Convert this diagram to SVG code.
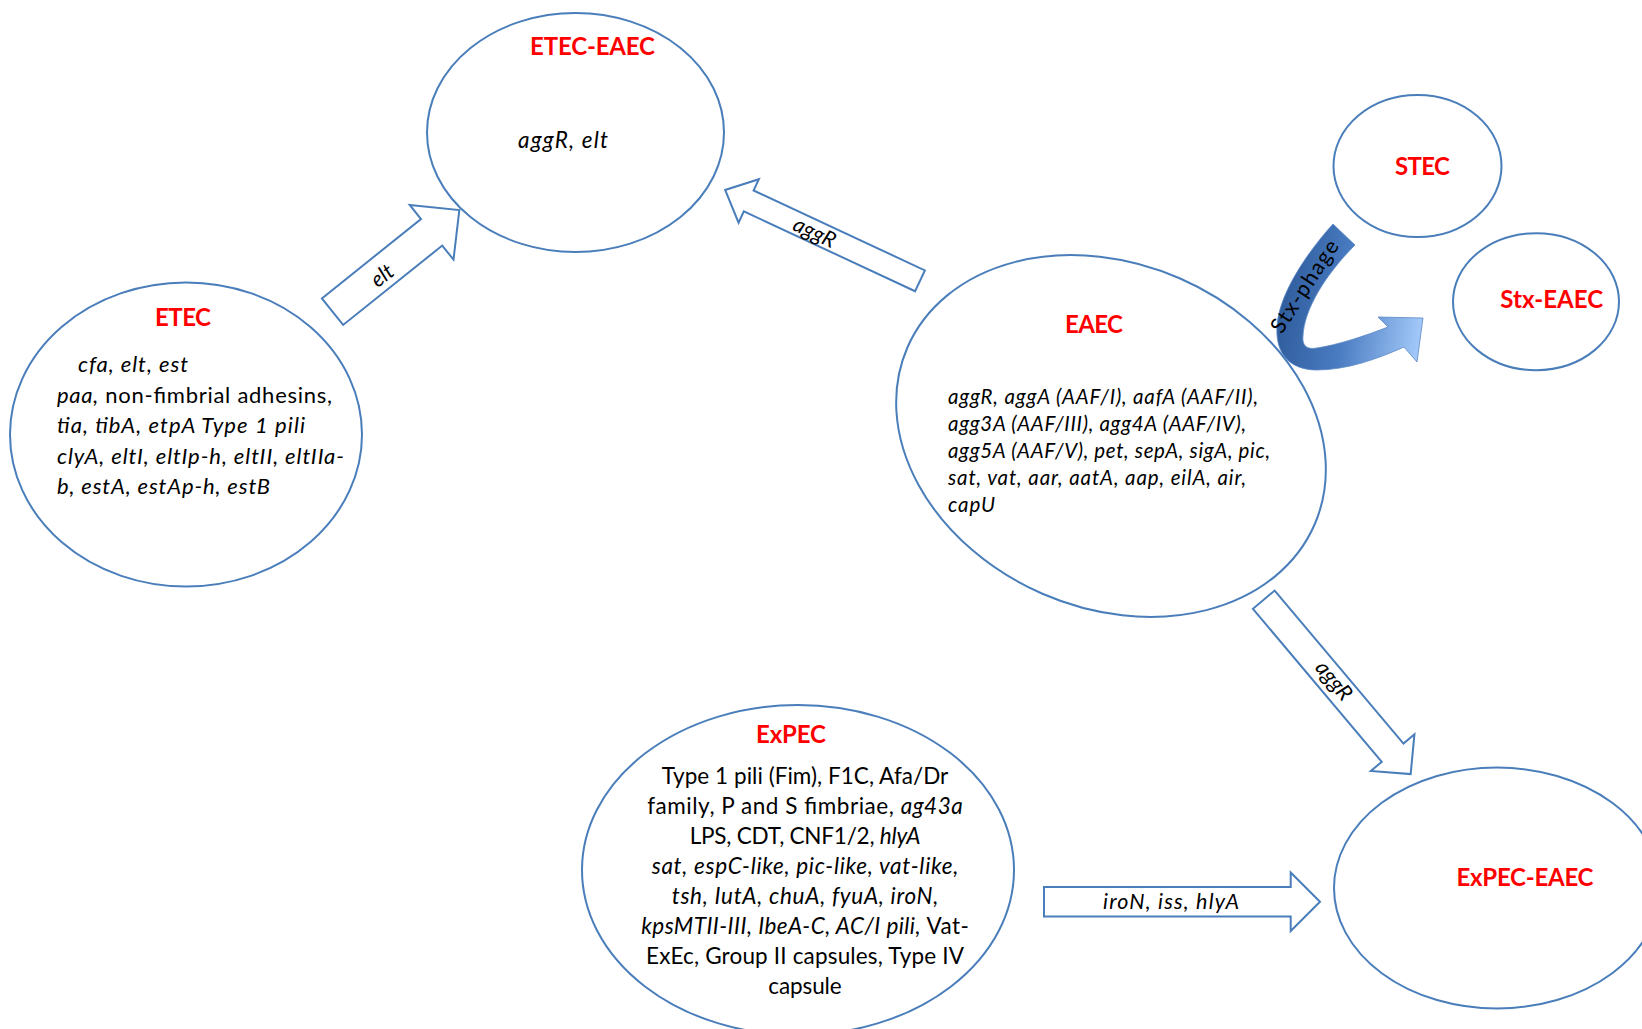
<svg xmlns="http://www.w3.org/2000/svg" width="1642" height="1029" viewBox="0 0 1642 1029">
<style>
.node ellipse{fill:#fff;stroke:#4a7ebb;stroke-width:2}
.t{font-family:Lato,"Open Sans","Liberation Sans",sans-serif;font-weight:bold;fill:#ff0000;font-size:24px;text-anchor:middle}
.b{font-family:Lato,"Open Sans","Liberation Sans",sans-serif;fill:#000;}
.i{font-style:italic}
.arrow{fill:#fff;stroke:#4a7ebb;stroke-width:2;stroke-linejoin:miter}
.lab{font-family:Lato,"Open Sans","Liberation Sans",sans-serif;font-style:italic;font-size:21.5px;fill:#000;text-anchor:middle;dominant-baseline:central}
</style>
<defs>
<linearGradient id="stxg" gradientUnits="userSpaceOnUse" x1="1280" y1="300" x2="1425" y2="320">
<stop offset="0" stop-color="#2f5c9c"/>
<stop offset="0.45" stop-color="#4a7cc2"/>
<stop offset="1" stop-color="#a5cbfa"/>
</linearGradient>
</defs>
<rect width="1642" height="1029" fill="#fff"/>

<g id="ETEC" class="node">
<ellipse cx="186" cy="434.5" rx="176" ry="152"/>
<text class="t" x="183" y="326" textLength="56">ETEC</text>
<text class="b i" font-size="22" x="78" y="372" textLength="110">cfa, elt, est</text>
<text class="b" font-size="22" x="57" y="403" textLength="275"><tspan class="i">paa,</tspan> non-fimbrial adhesins,</text>
<text class="b i" font-size="22" x="57" y="433" textLength="248">tia, tibA, etpA Type 1 pili</text>
<text class="b i" font-size="22" x="57" y="463.5" textLength="287">clyA, eltI, eltIp-h, eltII, eltIIa-</text>
<text class="b i" font-size="22" x="57" y="493.5" textLength="213">b, estA, estAp-h, estB</text>
</g>

<g id="ETEC-EAEC" class="node">
<ellipse cx="575.5" cy="132.5" rx="148.5" ry="119.5"/>
<text class="t" x="592.5" y="55" textLength="125">ETEC-EAEC</text>
<text class="b i" font-size="22.5" x="518" y="148" textLength="90">aggR, elt</text>
</g>

<g id="EAEC" class="node">
<ellipse cx="1111" cy="436" rx="222" ry="172" transform="rotate(23.5 1111 436)"/>
<text class="t" x="1094" y="333" textLength="58">EAEC</text>
<text class="b i" font-size="20.5" x="948" y="404" textLength="310">aggR, aggA (AAF/I), aafA (AAF/II),</text>
<text class="b i" font-size="20.5" x="948" y="431" textLength="298">agg3A (AAF/III), agg4A (AAF/IV),</text>
<text class="b i" font-size="20.5" x="948" y="458" textLength="322">agg5A (AAF/V), pet, sepA, sigA, pic,</text>
<text class="b i" font-size="20.5" x="948" y="485" textLength="298">sat, vat,  aar, aatA, aap, eilA, air,</text>
<text class="b i" font-size="20.5" x="948" y="512" textLength="47">capU</text>
</g>

<g id="STEC" class="node">
<ellipse cx="1417.5" cy="166" rx="84" ry="71"/>
<text class="t" x="1422.5" y="175" textLength="55">STEC</text>
</g>

<g id="Stx-EAEC" class="node">
<ellipse cx="1536" cy="301.7" rx="83" ry="68.5"/>
<text class="t" x="1551.7" y="308" textLength="103">Stx-EAEC</text>
</g>

<g id="ExPEC" class="node">
<ellipse cx="798" cy="870" rx="216" ry="165"/>
<text class="t" x="791" y="743" textLength="70">ExPEC</text>
<g class="b" font-size="22.5" text-anchor="middle">
<text x="805" y="784" textLength="286.6">Type 1 pili (Fim), F1C, Afa/Dr</text>
<text x="805" y="814" textLength="315.6">family, P and S fimbriae, <tspan class="i">ag43a</tspan></text>
<text x="805" y="844" textLength="230.7">LPS, CDT, CNF1/2, <tspan class="i">hlyA</tspan></text>
<text class="i" x="805" y="874" textLength="306.6">sat, espC-like, pic-like, vat-like,</text>
<text class="i" x="805" y="904" textLength="266.6">tsh, IutA, chuA, fyuA, iroN,</text>
<text x="805" y="933.5" textLength="327.6"><tspan class="i">kpsMTII-III,  IbeA-C, AC/I pili,</tspan> Vat-</text>
<text x="805" y="964" textLength="318">ExEc, Group  II capsules, Type IV</text>
<text x="805" y="994" textLength="73.4">capsule</text>
</g>
</g>

<g id="ExPEC-EAEC" class="node">
<ellipse cx="1497" cy="888" rx="163" ry="120.5"/>
<text class="t" x="1525" y="886" textLength="137">ExPEC-EAEC</text>
</g>

<g id="connectors">
<g id="elt-arrow">
<polygon class="arrow" transform="translate(332.5 311.7) rotate(-38.7)" points="0,-17 127,-17 127,-35 162.5,0 127,35 127,17 0,17"/>
<text class="lab" transform="translate(381.7 275) rotate(-38.7)">elt</text>
</g>
<g id="aggR-arrow-1">
<polygon class="arrow" transform="translate(920 280.8) rotate(205)" points="0,-11.5 189,-11.5 189,-24 215,0 189,24 189,11.5 0,11.5"/>
<text class="lab" transform="translate(815 231.7) rotate(25)">aggR</text>
</g>
<g id="aggR-arrow-2">
<polygon class="arrow" transform="translate(1263.8 599.7) rotate(49.9)" points="0,-14.2 200,-14.2 200,-28.5 228,0 200,28.5 200,14.2 0,14.2"/>
<text class="lab" transform="translate(1334.5 680) rotate(49.9)">aggR</text>
</g>
<g id="iroN-arrow">
<polygon class="arrow" points="1044,887 1290.7,887 1290.7,872.5 1320,901.7 1290.7,931 1290.7,916.5 1044,916.5"/>
<text class="lab" x="1171" y="901" textLength="136">iroN, iss, hlyA</text>
</g>
<g id="stx-phage-arrow">
<path fill="url(#stxg)" stroke="#5b88c6" stroke-width="0.8" d="M 1333,224 C 1305,255 1279,295 1277,326 C 1275,356 1292,370 1317,370 C 1347,370 1377,359 1404,347 L 1417,362 L 1423,318 L 1378,317 L 1388,327 C 1365,336 1337,345 1317,348 C 1306,350 1302,345 1303,336 C 1304,310 1325,275 1355,245 Z"/>
<text class="lab" style="font-style:normal" font-size="22" textLength="106" transform="translate(1304 286) rotate(-57)">Stx-phage</text>
</g>
</g>
</svg>
